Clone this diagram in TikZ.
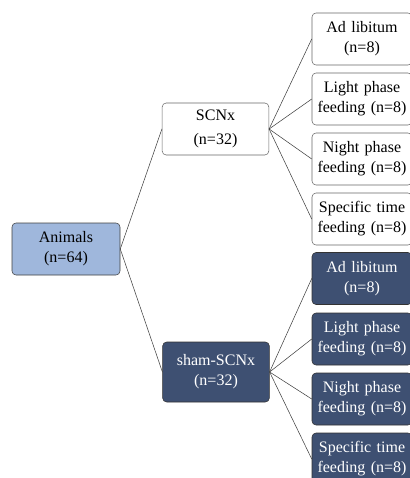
\documentclass[tikz,border=0pt]{standalone}
\usepackage{fontspec}
\setmainfont{Liberation Serif}
\definecolor{paleblue}{HTML}{9FB7DC}
\definecolor{slateblue}{HTML}{3E5072}
\begin{document}
\begin{tikzpicture}[x=0.75pt,y=-0.75pt, font=\fontsize{12}{15}\selectfont, line join=round, line cap=round,
  box/.style={draw=black!70, rounded corners=3pt, align=center, inner sep=1pt, minimum width=80pt, minimum height=39pt},
  leaf/.style={box, minimum width=75pt, text width=71pt},
  dark/.style={fill=slateblue, text=white, draw=black!80}]
	\useasboundingbox (0,0) rectangle (410,478);
	\node[box, fill=paleblue, minimum width=81pt, draw=black!75] (animals) at (66,249) {Animals\\(n=64)};
	\node[box, draw=black!60] (scnx) at (215.5,129) {SCNx\\[3pt](n=32)};
	\node[box, dark, minimum height=45pt] (sham) at (216,372) {sham-SCNx\\(n=32)};
	\draw[black!75] (animals.east)--(scnx.west) (animals.east)--(sham.west);
	\foreach \y/\t [count=\i] in {39/{Ad libitum\\(n=8)},99/{Light phase\\feeding (n=8)},159/{Night phase\\feeding (n=8)},219/{Specific time\\feeding (n=8)}}{
		\node[leaf, draw=black!60] (s\i) at (362,\y) {\t};
		\draw[black!75] (scnx.east)--(s\i.west);
	}
	\foreach \y/\t [count=\i] in {278.5/{Ad libitum\\(n=8)},339/{Light phase\\feeding (n=8)},399/{Night phase\\feeding (n=8)},459/{Specific time\\feeding (n=8)}}{
		\node[leaf, dark] (h\i) at (362,\y) {\t};
		\draw[black!75] (sham.east)--(h\i.west);
	}
\end{tikzpicture}
\end{document}
